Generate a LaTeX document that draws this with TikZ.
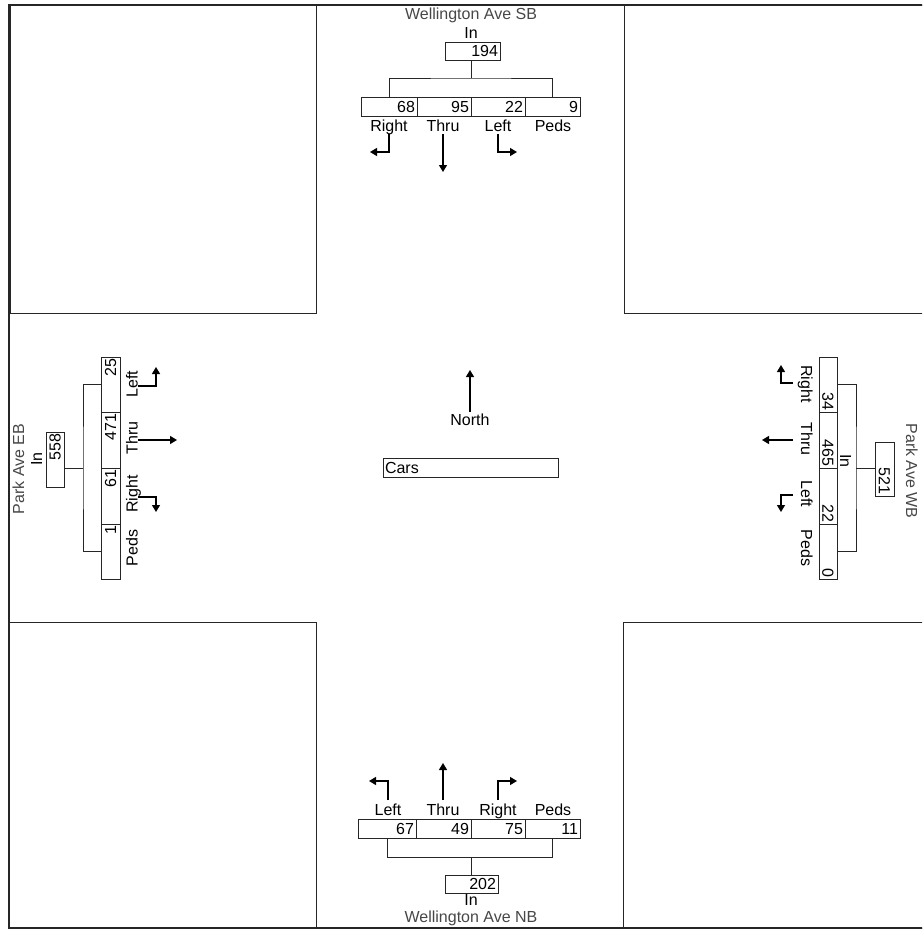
\documentclass[tikz,border=0pt]{standalone}
\usepackage{fontspec}
\setmainfont{Liberation Sans}
\usetikzlibrary{arrows.meta}
\begin{document}
\begin{tikzpicture}[x=1pt,y=-1pt,
  fnt/.style={font=\fontsize{16}{16}\selectfont},
  txt/.style={fnt, inner sep=0pt},
  street/.style={txt, text=black!72},
  cellbox/.style={draw=black!85, line width=0.8pt, inner xsep=2pt, inner ysep=0pt, fnt, align=right},
  conn/.style={draw=black!85, line width=0.8pt},
  frame/.style={draw=black!85, line width=1.6pt},
  block/.style={draw=black!85, line width=1pt},
  mvt/.style={draw=black, line width=1.3pt, -{Triangle[width=8pt,length=7pt]}}
]
\useasboundingbox (0,0) rectangle (922,930);
\clip (0,0) rectangle (922,930);

% frame and corner blocks
\draw[frame] (940,5) -- (9,5) -- (9,928) -- (940,928);
\draw[block] (10,5) rectangle (316,313);
\draw[block] (624,5) rectangle (945,313);
\draw[block] (9,622) rectangle (316,928);
\draw[block] (623,622) rectangle (945,928);

% ---------- Wellington Ave SB (top) ----------
\node[street, anchor=base] (tname) at (471,19) {Wellington Ave SB};
\node[txt, anchor=base] (tinl) at (471,38) {In};
\node[cellbox, text width=51pt, minimum height=18pt] (tin) at (472.5,51) {194};
\node[cellbox, text width=52pt, minimum height=19pt] (t1) at (389,106.5) {68};
\node[cellbox, text width=50pt, minimum height=19pt] (t2) at (444,106.5) {95};
\node[cellbox, text width=50pt, minimum height=19pt] (t3) at (498,106.5) {22};
\node[cellbox, text width=51pt, minimum height=19pt] (t4) at (552.5,106.5) {9};
\coordinate (tbar) at (471,78);
\draw[conn] (t1.north) |- (tbar) -| (t4.north);
\draw[conn] (tbar) -- (tbar |- tin.south);
\node[txt, anchor=base] (tl1) at (389,131) {Right};
\node[txt, anchor=base] (tl2) at (443,131) {Thru};
\node[txt, anchor=base] (tl3) at (498,131) {Left};
\node[txt, anchor=base] (tl4) at (553,131) {Peds};
\draw[mvt] (389,134) -- (389,152) -- (370,152);
\draw[mvt] (443,134) -- (443,172);
\draw[mvt] (498,134) -- (498,152) -- (517,152);

% ---------- Wellington Ave NB (bottom) ----------
\node[txt, anchor=base] (bl1) at (388,815) {Left};
\node[txt, anchor=base] (bl2) at (443,815) {Thru};
\node[txt, anchor=base] (bl3) at (498,815) {Right};
\node[txt, anchor=base] (bl4) at (553,815) {Peds};
\node[cellbox, text width=54pt, minimum height=19pt] (b1) at (387,829) {67};
\node[cellbox, text width=51pt, minimum height=19pt] (b2) at (443.5,829) {49};
\node[cellbox, text width=50pt, minimum height=19pt] (b3) at (498,829) {75};
\node[cellbox, text width=51pt, minimum height=19pt] (b4) at (552.5,829) {11};
\node[cellbox, text width=49pt, minimum height=18pt] (bin) at (471.5,884) {202};
\coordinate (bbar) at (471,857);
\draw[conn] (b1.south) |- (bbar) -| (b4.south);
\draw[conn] (bbar) -- (bbar |- bin.north);
\node[txt, anchor=base] (binl) at (471,905) {In};
\node[street, anchor=base] (bname) at (471,922) {Wellington Ave NB};
\draw[mvt] (388,800) -- (388,781) -- (369,781);
\draw[mvt] (443,800) -- (443,763);
\draw[mvt] (498,800) -- (498,781) -- (517,781);

% ---------- Park Ave EB (left) ----------
\node[street, anchor=base, rotate=90] (lname) at (24,469) {Park Ave EB};
\node[txt, anchor=base, rotate=90] (linl) at (42,459) {In};
\node[cellbox, rotate=90, text width=51pt, minimum height=18pt] (lin) at (55,459.5) {558};
\node[cellbox, rotate=90, text width=51pt, minimum height=19pt] (l1) at (110.5,384.5) {25};
\node[cellbox, rotate=90, text width=52pt, minimum height=19pt] (l2) at (110.5,440) {471};
\node[cellbox, rotate=90, text width=52pt, minimum height=19pt] (l3) at (110.5,496) {61};
\node[cellbox, rotate=90, text width=51pt, minimum height=19pt] (l4) at (110.5,551.5) {1};
\coordinate (lbar) at (83,468);
\draw[conn] (l1.north) -| (lbar) |- (l4.north);
\draw[conn] (lbar) -- (lbar -| lin.south);
\node[txt, anchor=base, rotate=90] (ll1) at (137.5,384) {Left};
\node[txt, anchor=base, rotate=90] (ll2) at (137.5,438) {Thru};
\node[txt, anchor=base, rotate=90] (ll3) at (137.5,494) {Right};
\node[txt, anchor=base, rotate=90] (ll4) at (137.5,548) {Peds};
\draw[mvt] (138,386) -- (156,386) -- (156,367);
\draw[mvt] (138,440) -- (177,440);
\draw[mvt] (138,497) -- (156,497) -- (156,512);

% ---------- Park Ave WB (right) ----------
\node[cellbox, rotate=-90, text width=51pt, minimum height=18pt] (r1) at (828,384.5) {34};
\node[cellbox, rotate=-90, text width=52pt, minimum height=18pt] (r2) at (828,440) {465};
\node[cellbox, rotate=-90, text width=52pt, minimum height=18pt] (r3) at (828,496) {22};
\node[cellbox, rotate=-90, text width=51pt, minimum height=18pt] (r4) at (828,551.5) {0};
\node[cellbox, rotate=-90, text width=50pt, minimum height=19pt] (rin) at (884.5,469) {521};
\coordinate (rbar) at (856,468);
\draw[conn] (r1.north) -| (rbar) |- (r4.north);
\draw[conn] (rbar) -- (rbar -| rin.south);
\node[txt, anchor=base, rotate=-90] (rinl) at (840,461) {In};
\node[street, anchor=base, rotate=-90] (rname) at (906,471) {Park Ave WB};
\node[txt, anchor=base, rotate=-90] (rl1) at (801,384) {Right};
\node[txt, anchor=base, rotate=-90] (rl2) at (801,439) {Thru};
\node[txt, anchor=base, rotate=-90] (rl3) at (801,494) {Left};
\node[txt, anchor=base, rotate=-90] (rl4) at (801,548) {Peds};
\draw[mvt] (793,383) -- (781,383) -- (781,365);
\draw[mvt] (793,440) -- (762,440);
\draw[mvt] (793,495) -- (781,495) -- (781,512);

% ---------- centre ----------
\node[txt, anchor=base] (north) at (470,425) {North};
\draw[mvt] (north.north) ++(0,-1) -- (470,370);
\node[cellbox, align=left, text width=171pt, minimum height=19pt] (cars) at (470.5,467.5) {Cars};
\end{tikzpicture}
\end{document}
